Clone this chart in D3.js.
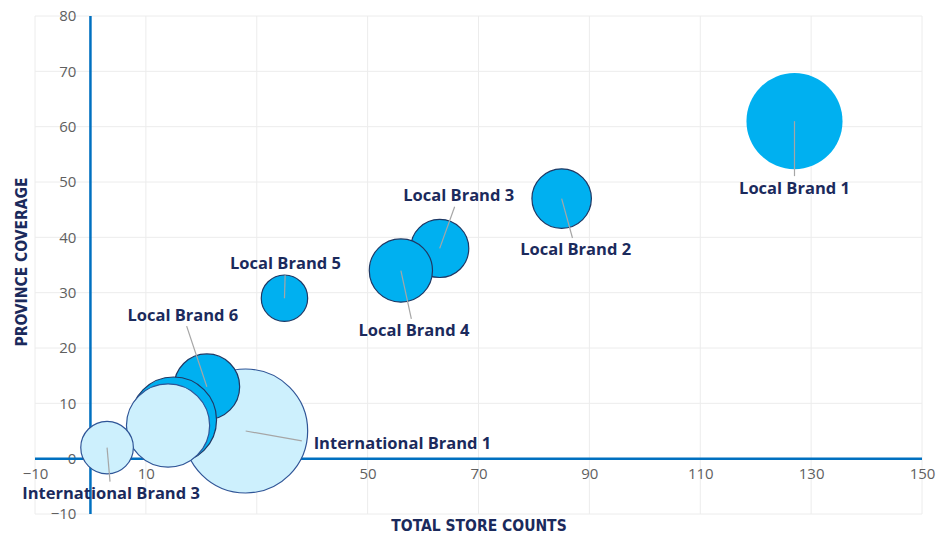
<!DOCTYPE html>
<html>
<head>
<meta charset="utf-8">
<script src="https://cdn.jsdelivr.net/npm/d3@7"></script>
<style>
  body { margin: 0; background: #fff; }
  .tick text { font-family: "Open Sans", sans-serif; font-size: 15px; fill: #5f5f5f; }
  .brand-label { font-family: "Open Sans", sans-serif; font-weight: 700; font-size: 16.5px; fill: #1b2a5c; }
  .axis-title { font-family: "DejaVu Sans Condensed", "DejaVu Sans", sans-serif; font-weight: 700; font-size: 15.5px; fill: #1b2a5c; }
</style>
</head>
<body>
<div id="chart"></div>
<script>
// data (drawing order = stacking order)
var brands = ["International Brand 1", "Local Brand 6", "Local Brand 7", "International Brand 2",
              "International Brand 3", "Local Brand 5", "Local Brand 3", "Local Brand 4",
              "Local Brand 2", "Local Brand 1"];
var brandType = ["International", "Local", "Local", "International",
                 "International", "Local", "Local", "Local", "Local", "Local"];
var storeCounts = [28, 21, 15, 14, 3, 35, 63, 56, 85, 127];
var provinceCoverage = [5, 13, 7, 6, 2, 29, 38, 34, 47, 61];
var bubbleSize = [100, 28, 48, 45, 18, 14, 22, 26, 23, 60];

var xTicks = [-10, 10, 30, 50, 70, 90, 110, 130, 150];
var yTicks = [-10, 0, 10, 20, 30, 40, 50, 60, 70, 80];

// label placement, pixel offsets from bubble centre
var labelLayout = {
    "Local Brand 1": {dx: 0, dy: 67, anchor: "middle"},
    "Local Brand 2": {dx: 14, dy: 51, anchor: "middle"},
    "Local Brand 3": {dx: 19, dy: -53, anchor: "middle"},
    "Local Brand 4": {dx: 13, dy: 60, anchor: "middle"},
    "Local Brand 5": {dx: 1, dy: -35, anchor: "middle"},
    "Local Brand 6": {dx: -24, dy: -72, anchor: "middle"},
    "International Brand 1": {dx: 68, dy: 12, anchor: "start"},
    "International Brand 3": {dx: 4, dy: 46, anchor: "middle"}
};

var width = 936, height = 534;

var x = d3.scaleLinear().domain([-10, 150]).range([35, 922]);
var y = d3.scaleLinear().domain([-10, 80]).range([514, 16]);
var r = d3.scaleSqrt().domain([0, 100]).range([0, 62]);

var svg = d3.select("#chart").append("svg")
    .attr("width", width)
    .attr("height", height);

// grid
svg.append("g")
    .selectAll("line")
    .data(xTicks)
    .enter().append("line")
    .attr("x1", function(d) { return x(d); })
    .attr("x2", function(d) { return x(d); })
    .attr("y1", y(80)).attr("y2", y(-10))
    .style("stroke", "#ececec");

svg.append("g")
    .selectAll("line")
    .data(yTicks)
    .enter().append("line")
    .attr("y1", function(d) { return y(d); })
    .attr("y2", function(d) { return y(d); })
    .attr("x1", x(-10)).attr("x2", x(150))
    .style("stroke", "#ececec");

// axes crossing at zero
var xAxis = svg.append("g")
    .attr("transform", "translate(0," + y(0) + ")")
    .call(d3.axisBottom(x).tickValues(xTicks).tickSize(0).tickPadding(10));
xAxis.select(".domain").remove();

var yAxis = svg.append("g")
    .attr("transform", "translate(" + x(0) + ",0)")
    .call(d3.axisLeft(y).tickValues(yTicks).tickSize(0).tickPadding(14));
yAxis.select(".domain").remove();

svg.append("line")
    .attr("x1", x(-10)).attr("x2", x(150))
    .attr("y1", y(0)).attr("y2", y(0))
    .style("stroke", "#0070c0").style("stroke-width", 2.5);

svg.append("line")
    .attr("x1", x(0)).attr("x2", x(0))
    .attr("y1", y(80)).attr("y2", y(-10))
    .style("stroke", "#0070c0").style("stroke-width", 2.5);

// bubbles
var data = brands.map(function(b, i) {
    return {name: b, type: brandType[i], stores: storeCounts[i],
            coverage: provinceCoverage[i], size: bubbleSize[i]};
});

svg.append("g")
    .selectAll("circle")
    .data(data)
    .enter().append("circle")
    .attr("cx", function(d) { return x(d.stores); })
    .attr("cy", function(d) { return y(d.coverage); })
    .attr("r", function(d) { return r(d.size); })
    .style("fill", function(d) { return d.type == "Local" ? "#00b0f0" : "#cdf0fd"; })
    .style("stroke", function(d) {
        if (d.name == "Local Brand 1") return "none";
        return d.type == "Local" ? "#1f3864" : "#2f5597";
    })
    .style("stroke-width", 1.2);

// leader lines + labels
var labelled = data.filter(function(d) { return labelLayout[d.name]; });

svg.append("g")
    .selectAll("line")
    .data(labelled)
    .enter().append("line")
    .attr("x1", function(d) { return x(d.stores); })
    .attr("y1", function(d) { return y(d.coverage); })
    .attr("x2", function(d) {
        var l = labelLayout[d.name], len = Math.sqrt(l.dx * l.dx + l.dy * l.dy);
        return x(d.stores) + l.dx - l.dx / len * 12;
    })
    .attr("y2", function(d) {
        var l = labelLayout[d.name], len = Math.sqrt(l.dx * l.dx + l.dy * l.dy);
        return y(d.coverage) + l.dy - l.dy / len * 12;
    })
    .style("stroke", "#a6a6a6")
    .style("stroke-width", 1.2);

svg.append("g")
    .selectAll("text")
    .data(labelled)
    .enter().append("text")
    .attr("class", "brand-label")
    .attr("x", function(d) { return x(d.stores) + labelLayout[d.name].dx; })
    .attr("y", function(d) { return y(d.coverage) + labelLayout[d.name].dy; })
    .attr("dy", "0.35em")
    .attr("text-anchor", function(d) { return labelLayout[d.name].anchor; })
    .text(function(d) { return d.name; });

// axis titles
svg.append("text")
    .attr("class", "axis-title")
    .attr("x", 479).attr("y", 531)
    .attr("text-anchor", "middle")
    .text("TOTAL STORE COUNTS");

svg.append("text")
    .attr("class", "axis-title")
    .attr("transform", "translate(27,262) rotate(-90)")
    .attr("text-anchor", "middle")
    .text("PROVINCE COVERAGE");
</script>
</body>
</html>
